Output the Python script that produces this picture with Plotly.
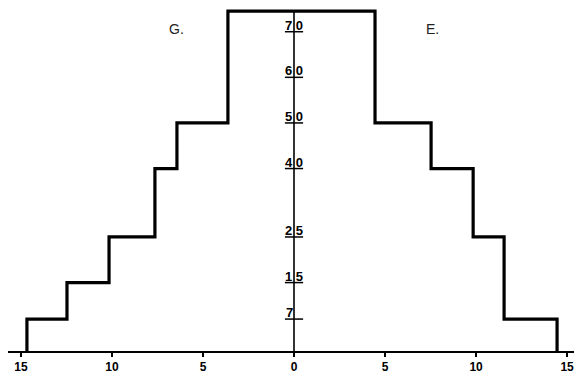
import plotly.graph_objects as go

# step levels (height) and half-widths of the G. (left) and E. (right) sides
levels = [7, 15, 25, 40, 50, 74.5]
left_edges = [14.67, 12.47, 10.16, 7.64, 6.43, 3.63]
right_edges = [14.45, 11.54, 11.54, 9.84, 7.53, 4.45]

# labels on the centre axis
y_marks = [7, 15, 25, 40, 50, 60, 70]
x_ticks = [-15, -10, -5, 0, 5, 10, 15]
x_labels = [str(abs(v)) for v in x_ticks]

# build the outline: up the left side, across the top, down the right side
xs, ys = [-left_edges[0]], [0]
prev = 0
for i, lev in enumerate(levels):
    xs += [-left_edges[i], -left_edges[i]]
    ys += [prev, lev]
    prev = lev
for i in range(len(levels) - 1, -1, -1):
    lower = levels[i - 1] if i > 0 else 0
    xs += [right_edges[i], right_edges[i]]
    ys += [levels[i], lower]

fig = go.Figure()

# outline
fig.add_trace(go.Scatter(x=xs, y=ys, mode='lines',
                         line=dict(color='black', width=3.2), hoverinfo='skip'))

# centre axis
fig.add_trace(go.Scatter(x=[0, 0], y=[0, levels[-1]], mode='lines',
                         line=dict(color='black', width=1.6), hoverinfo='skip'))

# little tick dashes on the centre axis
fig.add_trace(go.Scatter(x=[0] * len(y_marks), y=y_marks, mode='markers',
                         marker=dict(symbol='line-ew', size=13,
                                     line=dict(color='black', width=1.5)),
                         hoverinfo='skip'))

lab_font = dict(family='Liberation Sans', size=13, color='black', weight='bold')
for v in y_marks:
    s = str(v)
    if len(s) == 1:
        fig.add_annotation(x=0, y=v, text=s, showarrow=False, xanchor='right',
                           yanchor='bottom', yshift=-3, xshift=1, font=lab_font)
    else:
        fig.add_annotation(x=0, y=v, text=s[0] + ' ' + s[1], showarrow=False,
                           xanchor='center', yanchor='bottom', yshift=-3,
                           font=lab_font)

side_font = dict(family='Liberation Sans', size=14, color='#222')
fig.add_annotation(x=-6.48, y=70.7, text='G.', showarrow=False, font=side_font)
fig.add_annotation(x=7.58, y=70.7, text='E.', showarrow=False, font=side_font)

# page has an 8px body margin, so the figure is sized to fit inside it
fig.update_layout(
    width=566, height=366,
    margin=dict(l=0, r=0, t=0, b=15),
    plot_bgcolor='white', paper_bgcolor='white',
    showlegend=False,
    xaxis=dict(range=[-15.71, 15.38], tickvals=x_ticks, ticktext=x_labels,
               showline=True, linecolor='black', linewidth=2,
               ticks='outside', ticklen=4, tickwidth=1.5, tickcolor='black',
               ticklabeloverflow='allow',
               showgrid=False, zeroline=False,
               tickfont=dict(family='Liberation Sans', size=12, color='black',
                             weight='bold')),
    yaxis=dict(range=[0, 75.2], visible=False, showgrid=False, zeroline=False),
)

fig.write_html("out.html")
